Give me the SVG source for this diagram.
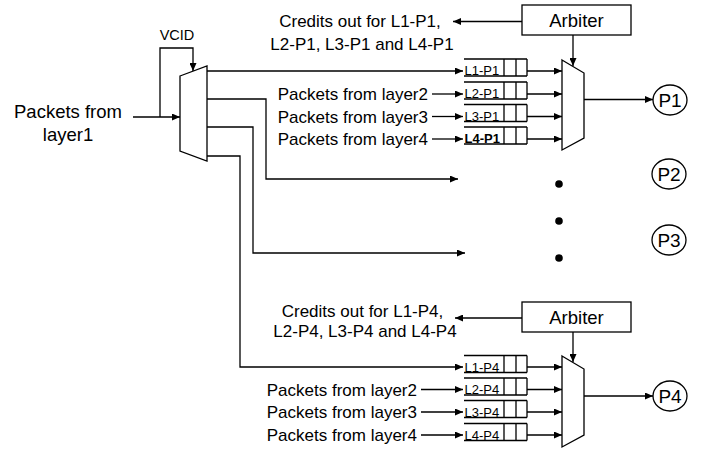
<svg xmlns="http://www.w3.org/2000/svg" width="711" height="449" viewBox="0 0 711 449">
<style>
text{font-family:"Liberation Sans",Arial,sans-serif;fill:#000}
.big{font-size:18.5px}
.lbl{font-size:17px}
.p{font-size:19px}
.q{font-size:13px}
.sm{font-size:14.5px}
.ln{fill:none;stroke:#000;stroke-width:1.3}
.shape{fill:#fff;stroke:#000;stroke-width:1.3}
.arr{fill:none;stroke:#000;stroke-width:1.3;marker-end:url(#ah)}
</style>
<defs>
<marker id="ah" markerUnits="userSpaceOnUse" markerWidth="9" markerHeight="7" refX="8" refY="3.5" orient="auto">
<path d="M0,0 L8,3.5 L0,7 z" fill="#000"/>
</marker>
</defs>
<rect width="711" height="449" fill="#fff"/>

<g id="connectors">
<path class="arr" d="M133,117 H180"/>
<path class="arr" d="M160,117 V48 H193 V71"/>
<path class="arr" d="M207,71 H463"/>
<path class="arr" d="M207,99 H266 V179 H458"/>
<path class="arr" d="M207,127 H253 V253 H465"/>
<path class="arr" d="M207,156 H240 V367 H463"/>
<path class="arr" d="M432,94 H463"/>
<path class="arr" d="M432,116.5 H463"/>
<path class="arr" d="M432,139 H463"/>
<path class="arr" d="M527,71 H562"/>
<path class="arr" d="M527,94 H562"/>
<path class="arr" d="M527,116.5 H562"/>
<path class="arr" d="M527,139 H562"/>
<path class="arr" d="M522,21.5 H453"/>
<path class="arr" d="M573,35 V66"/>
<path class="arr" d="M584,99.5 H653"/>
<path class="arr" d="M421,389.5 H463"/>
<path class="arr" d="M421,412 H463"/>
<path class="arr" d="M421,435 H463"/>
<path class="arr" d="M527,367 H562"/>
<path class="arr" d="M527,389.5 H562"/>
<path class="arr" d="M527,412 H562"/>
<path class="arr" d="M527,435 H562"/>
<path class="arr" d="M522,318 H455"/>
<path class="arr" d="M573,332 V362"/>
<path class="arr" d="M584,396 H653"/>
</g>

<g id="input-label">
<text class="big" x="68" y="118" text-anchor="middle">Packets from</text>
<text class="big" x="68" y="141" text-anchor="middle">layer1</text>
</g>
<g id="vcid-label"><text class="sm" x="177" y="40" text-anchor="middle">VCID</text></g>

<g id="demux">
<path class="shape" d="M180,76 L207,66 L207,161 L180,151 Z"/>
</g>

<g id="credits-top">
<text class="lbl" x="360" y="27" text-anchor="middle">Credits out for L1-P1,</text>
<text class="lbl" x="362" y="50" text-anchor="middle">L2-P1, L3-P1 and L4-P1</text>
</g>
<g id="arbiter-top">
<rect class="shape" x="522" y="5" width="109" height="30"/>
<text class="big" x="576.5" y="27" text-anchor="middle">Arbiter</text>
</g>

<g id="layers-top">
<text class="lbl" x="428" y="100" text-anchor="end">Packets from layer2</text>
<text class="lbl" x="428" y="122.5" text-anchor="end">Packets from layer3</text>
<text class="lbl" x="428" y="145" text-anchor="end">Packets from layer4</text>
</g>

<g id="queue-L1-P1">
<path class="ln" d="M464,59 H527 M464,76 H527 M504,59 V76 M516,59 V76 M527,59 V76"/>
<text class="q" x="464.5" y="75">L1-P1</text>
</g>
<g id="queue-L2-P1">
<path class="ln" d="M464,82 H527 M464,99 H527 M504,82 V99 M516,82 V99 M527,82 V99"/>
<text class="q" x="464.5" y="98">L2-P1</text>
</g>
<g id="queue-L3-P1">
<path class="ln" d="M464,104.5 H527 M464,121.5 H527 M504,104.5 V121.5 M516,104.5 V121.5 M527,104.5 V121.5"/>
<text class="q" x="464.5" y="120.5">L3-P1</text>
</g>
<g id="queue-L4-P1">
<path class="ln" d="M464,127 H527 M464,144 H527 M504,127 V144 M516,127 V144 M527,127 V144"/>
<text class="q" x="464.5" y="143" font-weight="bold">L4-P1</text>
</g>

<g id="mux-P1">
<path class="shape" d="M562,60 L584,73 L584,138 L562,150 Z"/>
</g>

<g id="port-P1">
<ellipse class="shape" cx="670" cy="100" rx="17" ry="15"/>
<text class="p" x="670" y="107" text-anchor="middle">P1</text>
</g>
<g id="port-P2">
<ellipse class="shape" cx="669" cy="174" rx="17" ry="15"/>
<text class="p" x="669" y="181" text-anchor="middle">P2</text>
</g>
<g id="port-P3">
<ellipse class="shape" cx="669" cy="240" rx="17" ry="15"/>
<text class="p" x="669" y="247" text-anchor="middle">P3</text>
</g>

<g id="dots">
<circle cx="559" cy="184" r="3.8" fill="#000"/>
<circle cx="559" cy="221" r="3.8" fill="#000"/>
<circle cx="559" cy="258" r="3.8" fill="#000"/>
</g>

<g id="credits-bottom">
<text class="lbl" x="362.5" y="317" text-anchor="middle">Credits out for L1-P4,</text>
<text class="lbl" x="365" y="337" text-anchor="middle">L2-P4, L3-P4 and L4-P4</text>
</g>
<g id="arbiter-bottom">
<rect class="shape" x="522" y="302" width="109" height="30"/>
<text class="big" x="576.5" y="324" text-anchor="middle">Arbiter</text>
</g>

<g id="layers-bottom">
<text class="lbl" x="417" y="395.5" text-anchor="end">Packets from layer2</text>
<text class="lbl" x="417" y="418" text-anchor="end">Packets from layer3</text>
<text class="lbl" x="417" y="441" text-anchor="end">Packets from layer4</text>
</g>

<g id="queue-L1-P4">
<path class="ln" d="M464,355.5 H527 M464,372.5 H527 M504,355.5 V372.5 M516,355.5 V372.5 M527,355.5 V372.5"/>
<text class="q" x="464.5" y="371.5">L1-P4</text>
</g>
<g id="queue-L2-P4">
<path class="ln" d="M464,378 H527 M464,395 H527 M504,378 V395 M516,378 V395 M527,378 V395"/>
<text class="q" x="464.5" y="394">L2-P4</text>
</g>
<g id="queue-L3-P4">
<path class="ln" d="M464,400.5 H527 M464,417.5 H527 M504,400.5 V417.5 M516,400.5 V417.5 M527,400.5 V417.5"/>
<text class="q" x="464.5" y="416.5">L3-P4</text>
</g>
<g id="queue-L4-P4">
<path class="ln" d="M464,423.5 H527 M464,440.5 H527 M504,423.5 V440.5 M516,423.5 V440.5 M527,423.5 V440.5"/>
<text class="q" x="464.5" y="439.5">L4-P4</text>
</g>

<g id="mux-P4">
<path class="shape" d="M562,356 L584,369 L584,435 L562,447 Z"/>
</g>
<g id="port-P4">
<ellipse class="shape" cx="670" cy="396" rx="17" ry="15"/>
<text class="p" x="670" y="403" text-anchor="middle">P4</text>
</g>
</svg>
